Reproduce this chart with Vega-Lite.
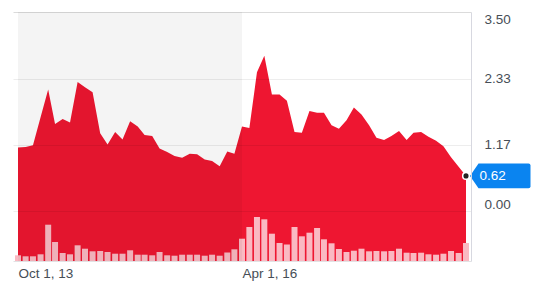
{
  "$schema": "https://vega.github.io/schema/vega-lite/v6.json",
  "width": 458,
  "height": 249,
  "autosize": "none",
  "padding": {"left": 13, "top": 12, "right": 81, "bottom": 28},
  "background": "#ffffff",
  "config": {
    "view": {"stroke": null},
    "font": "Liberation Sans",
    "axisX": {"labelAlign": "left", "ticks": false, "grid": false, "domain": true, "domainColor": "#e2e2e4", "labelPadding": 5, "labelFontSize": 13.5, "labelColor": "#464e56", "labelFlush": false, "labelOverlap": false}
  },
  "datasets": {
    "prices": [
      {"date": "2013-10-01", "close": 1.12, "volume": 57},
      {"date": "2013-11-01", "close": 1.13, "volume": 47},
      {"date": "2013-12-01", "close": 1.16, "volume": 47},
      {"date": "2014-01-01", "close": 1.65, "volume": 67},
      {"date": "2014-02-01", "close": 2.14, "volume": 363},
      {"date": "2014-03-01", "close": 1.53, "volume": 190},
      {"date": "2014-04-01", "close": 1.62, "volume": 80},
      {"date": "2014-05-01", "close": 1.56, "volume": 67},
      {"date": "2014-06-01", "close": 2.27, "volume": 157},
      {"date": "2014-07-01", "close": 2.18, "volume": 123},
      {"date": "2014-08-01", "close": 2.09, "volume": 97},
      {"date": "2014-09-01", "close": 1.37, "volume": 100},
      {"date": "2014-10-01", "close": 1.17, "volume": 90},
      {"date": "2014-11-01", "close": 1.39, "volume": 73},
      {"date": "2014-12-01", "close": 1.26, "volume": 73},
      {"date": "2015-01-01", "close": 1.58, "volume": 107},
      {"date": "2015-02-01", "close": 1.49, "volume": 63},
      {"date": "2015-03-01", "close": 1.34, "volume": 63},
      {"date": "2015-04-01", "close": 1.32, "volume": 57},
      {"date": "2015-05-01", "close": 1.10, "volume": 90},
      {"date": "2015-06-01", "close": 1.04, "volume": 57},
      {"date": "2015-07-01", "close": 0.97, "volume": 53},
      {"date": "2015-08-01", "close": 0.94, "volume": 63},
      {"date": "2015-09-01", "close": 1.01, "volume": 63},
      {"date": "2015-10-01", "close": 1.00, "volume": 63},
      {"date": "2015-11-01", "close": 0.91, "volume": 53},
      {"date": "2015-12-01", "close": 0.88, "volume": 63},
      {"date": "2016-01-01", "close": 0.79, "volume": 53},
      {"date": "2016-02-01", "close": 1.05, "volume": 85},
      {"date": "2016-03-01", "close": 1.01, "volume": 117},
      {"date": "2016-04-01", "close": 1.49, "volume": 223},
      {"date": "2016-05-01", "close": 1.46, "volume": 340},
      {"date": "2016-06-01", "close": 2.44, "volume": 440},
      {"date": "2016-07-01", "close": 2.73, "volume": 417},
      {"date": "2016-08-01", "close": 2.05, "volume": 273},
      {"date": "2016-09-01", "close": 2.05, "volume": 180},
      {"date": "2016-10-01", "close": 1.94, "volume": 165},
      {"date": "2016-11-01", "close": 1.39, "volume": 340},
      {"date": "2016-12-01", "close": 1.38, "volume": 247},
      {"date": "2017-01-01", "close": 1.76, "volume": 283},
      {"date": "2017-02-01", "close": 1.73, "volume": 330},
      {"date": "2017-03-01", "close": 1.73, "volume": 217},
      {"date": "2017-04-01", "close": 1.51, "volume": 177},
      {"date": "2017-05-01", "close": 1.45, "volume": 120},
      {"date": "2017-06-01", "close": 1.60, "volume": 90},
      {"date": "2017-07-01", "close": 1.82, "volume": 103},
      {"date": "2017-08-01", "close": 1.70, "volume": 123},
      {"date": "2017-09-01", "close": 1.51, "volume": 97},
      {"date": "2017-10-01", "close": 1.29, "volume": 100},
      {"date": "2017-11-01", "close": 1.25, "volume": 97},
      {"date": "2017-12-01", "close": 1.32, "volume": 100},
      {"date": "2018-01-01", "close": 1.41, "volume": 123},
      {"date": "2018-02-01", "close": 1.25, "volume": 83},
      {"date": "2018-03-01", "close": 1.38, "volume": 80},
      {"date": "2018-04-01", "close": 1.39, "volume": 83},
      {"date": "2018-05-01", "close": 1.31, "volume": 67},
      {"date": "2018-06-01", "close": 1.24, "volume": 63},
      {"date": "2018-07-01", "close": 1.14, "volume": 73},
      {"date": "2018-08-01", "close": 0.95, "volume": 100},
      {"date": "2018-09-01", "close": 0.78, "volume": 80},
      {"date": "2018-10-01", "close": 0.62, "volume": 180}
    ],
    "last": [{"date": "2018-10-01", "close": 0.62}],
    "range": [{"start": "2013-10-01", "end": "2016-04-01"}]
  },
  "resolve": {"scale": {"y": "independent"}},
  "layer": [
    {
      "data": {"name": "prices"},
      "mark": {"type": "area", "color": "#ee1631", "interpolate": "linear", "opacity": 1},
      "encoding": {
        "x": {
          "field": "date", "type": "temporal",
          "scale": {"type": "utc", "domain": [1380585600000, 1538352000000]},
          "axis": {"values": [1380585600000, 1459468800000], "format": "%b %-d, %y", "title": null, "orient": "bottom"}
        },
        "y": {
          "field": "close", "type": "quantitative",
          "scale": {"domain": [-0.875, 3.5], "nice": false, "zero": false},
          "axis": {
            "orient": "right", "values": [0, 1.17, 2.33, 3.5], "format": ".2f",
            "ticks": false, "grid": true, "gridColor": "#000000",
            "gridOpacity": {"condition": {"test": "datum.value === 3.5", "value": 0.14}, "value": 0.07},
            "domain": true, "domainColor": "#d7d8e0", "labelPadding": 13,
            "labelFontSize": 13.5, "labelColor": "#464e56", "labelAlign": "left",
            "labelBaseline": {"condition": [{"test": "datum.value === 3.5", "value": "top"}, {"test": "datum.value === 0", "value": "bottom"}], "value": "middle"},
            "title": null, "zindex": 1, "labelFlush": false, "labelOverlap": false
          }
        },
        "y2": {"datum": -0.875}
      }
    },
    {
      "data": {"name": "prices"},
      "mark": {"type": "bar", "color": "#fab9c2", "size": 6, "clip": true},
      "encoding": {
        "x": {"field": "date", "type": "temporal", "scale": {"type": "utc", "domain": [1380585600000, 1538352000000]}, "axis": {"values": [1380585600000, 1459468800000], "format": "%b %-d, %y", "title": null, "orient": "bottom"}},
        "y": {"field": "volume", "type": "quantitative", "scale": {"domain": [0, 2490], "nice": false}, "axis": null}
      }
    },
    {
      "data": {"name": "range"},
      "mark": {"type": "rect", "color": "#000000", "opacity": 0.045},
      "encoding": {
        "x": {"field": "start", "type": "temporal", "scale": {"type": "utc", "domain": [1380585600000, 1538352000000]}, "axis": {"values": [1380585600000, 1459468800000], "format": "%b %-d, %y", "title": null, "orient": "bottom"}},
        "x2": {"field": "end"}
      }
    },
    {
      "data": {"name": "last"},
      "mark": {"type": "point", "shape": "M0.062,0L0.194,-0.192L0.97,-0.192Q1,-0.192 1,-0.16L1,0.16Q1,0.192 0.97,0.192L0.194,0.192Z", "filled": true, "color": "#0a84f0", "size": 16641, "opacity": 1, "clip": false},
      "encoding": {
        "x": {"field": "date", "type": "temporal", "scale": {"type": "utc", "domain": [1380585600000, 1538352000000]}, "axis": {"values": [1380585600000, 1459468800000], "format": "%b %-d, %y", "title": null, "orient": "bottom"}},
        "y": {"field": "close", "type": "quantitative", "scale": {"domain": [-0.875, 3.5], "nice": false, "zero": false}, "axis": null}
      }
    },
    {
      "data": {"name": "last"},
      "mark": {"type": "point", "filled": true, "fill": "#222222", "stroke": "#ffffff", "strokeWidth": 1.5, "size": 44, "opacity": 1},
      "encoding": {
        "x": {"field": "date", "type": "temporal", "scale": {"type": "utc", "domain": [1380585600000, 1538352000000]}, "axis": {"values": [1380585600000, 1459468800000], "format": "%b %-d, %y", "title": null, "orient": "bottom"}},
        "y": {"field": "close", "type": "quantitative", "scale": {"domain": [-0.875, 3.5], "nice": false, "zero": false}, "axis": null}
      }
    },
    {
      "data": {"name": "last"},
      "mark": {"type": "text", "align": "left", "baseline": "middle", "dx": 13.5, "color": "#ffffff", "fontSize": 13.5},
      "encoding": {
        "x": {"field": "date", "type": "temporal", "scale": {"type": "utc", "domain": [1380585600000, 1538352000000]}, "axis": {"values": [1380585600000, 1459468800000], "format": "%b %-d, %y", "title": null, "orient": "bottom"}},
        "y": {"field": "close", "type": "quantitative", "scale": {"domain": [-0.875, 3.5], "nice": false, "zero": false}, "axis": null},
        "text": {"field": "close", "type": "quantitative", "format": ".2f"}
      }
    }
  ]
}
